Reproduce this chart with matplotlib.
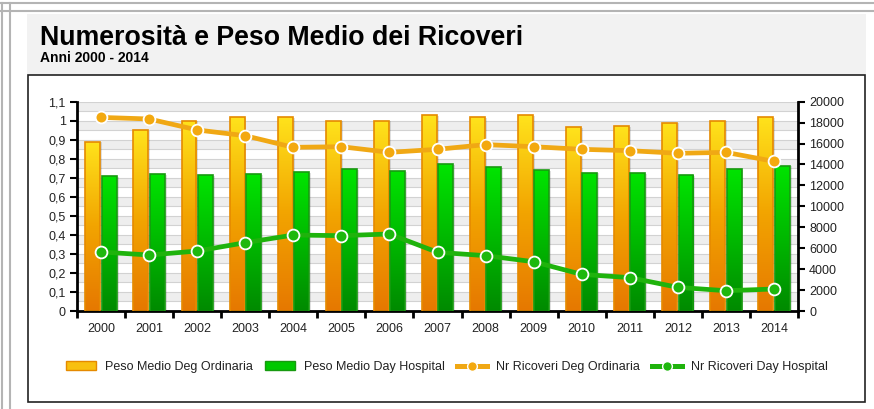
import numpy as np
import matplotlib
matplotlib.use("Agg")
import matplotlib.pyplot as plt
from matplotlib.patches import Rectangle, Patch
from matplotlib.lines import Line2D
from matplotlib.colors import LinearSegmentedColormap

# Data
years = ["2000", "2001", "2002", "2003", "2004", "2005", "2006", "2007",
         "2008", "2009", "2010", "2011", "2012", "2013", "2014"]
peso_ordinaria = [0.89, 0.95, 1.00, 1.02, 1.02, 1.00, 1.00, 1.03,
                  1.02, 1.03, 0.965, 0.97, 0.99, 1.00, 1.02]
peso_day_hospital = [0.71, 0.72, 0.713, 0.718, 0.73, 0.745, 0.737, 0.772,
                     0.755, 0.739, 0.727, 0.724, 0.713, 0.746, 0.764]
nr_ordinaria = [18500, 18350, 17300, 16750, 15640, 15700, 15160, 15450,
                15900, 15700, 15450, 15320, 15070, 15160, 14300]
nr_day_hospital = [5640, 5350, 5730, 6530, 7260, 7200, 7360, 5610,
                   5290, 4710, 3500, 3190, 2260, 1940, 2100]

left_ticks = [0, 0.1, 0.2, 0.3, 0.4, 0.5, 0.6, 0.7, 0.8, 0.9, 1.0, 1.1]
left_labels = ["0", "0,1", "0,2", "0,3", "0,4", "0,5", "0,6", "0,7",
               "0,8", "0,9", "1", "1,1"]
right_ticks = [0, 2000, 4000, 6000, 8000, 10000, 12000, 14000, 16000,
               18000, 20000]

plt.rcParams['font.family'] = ['Liberation Sans', 'DejaVu Sans']

W, H = 874, 409
fig = plt.figure(figsize=(W / 100, H / 100), dpi=100)


def fx(px):
    return px / W


def fy(py):
    return 1 - py / H


# Outer frame lines
for yy in (3, 11):
    fig.add_artist(Line2D([0, 1], [fy(yy), fy(yy)], color="#b4b4b4", lw=1.5,
                          zorder=-10))
for xx in (2, 10):
    fig.add_artist(Line2D([fx(xx), fx(xx)], [0, fy(3)], color="#b4b4b4",
                          lw=1.5, zorder=-10))

# Header background and chart box
fig.add_artist(Rectangle((fx(27), fy(75)), fx(839), 61 / H,
                         facecolor="#f2f2f2", edgecolor="none", zorder=-10))
fig.add_artist(Rectangle((fx(28), fy(402)), fx(837), 327 / H,
                         facecolor="white", edgecolor="#222222", lw=1.2,
                         zorder=-9))

fig.text(fx(40), fy(45), "Numerosità e Peso Medio dei Ricoveri",
         fontsize=19.3, fontweight="bold", color="black", va="baseline")
fig.text(fx(40), fy(62), "Anni 2000 - 2014",
         fontsize=10, fontweight="bold", color="black", va="baseline")

ax = fig.add_axes([fx(77), fy(311), fx(721), (311 - 101.7) / H])
ax.patch.set_visible(False)
ax2 = ax.twinx()

x = np.arange(len(years))

# Background bands and grid
for k in range(11):
    ax.axhspan(k * 0.1 + 0.05, (k + 1) * 0.1, color="#eeeeee", zorder=0, lw=0)
for g in np.arange(0, 1.1001, 0.05):
    ax.axhline(g, color="#d2d2d2", lw=0.8, zorder=0.5)

bw = 0.31
orange_cmap = LinearSegmentedColormap.from_list(
    "or", ["#e67800", "#f2a400", "#ffe31c"])
green_cmap = LinearSegmentedColormap.from_list(
    "gr", ["#008a00", "#00b800", "#00e400"])

bars_o = ax.bar(x - 0.17, peso_ordinaria, bw, facecolor="none",
                edgecolor="#e58a00", lw=1.2, zorder=3)
bars_g = ax.bar(x + 0.17, peso_day_hospital, bw, facecolor="none",
                edgecolor="#189a10", lw=1.2, zorder=3)

grad = np.linspace(0, 1, 256).reshape(-1, 1)
for bars, cmap in ((bars_o, orange_cmap), (bars_g, green_cmap)):
    for b in bars:
        x0, w, h = b.get_x(), b.get_width(), b.get_height()
        # soft shadow
        ax.add_patch(Rectangle((x0 + 0.04, 0), w, h - 0.004,
                               facecolor="#000000", alpha=0.12, lw=0, zorder=1))
        im = ax.imshow(grad, cmap=cmap, origin="lower", aspect="auto",
                       extent=(x0, x0 + w, 0, h), zorder=2)
        im.set_clip_path(b)

ax.set_xlim(-0.5, len(years) - 0.5)
ax.set_ylim(0, 1.1)
ax2.set_ylim(0, 20000)

# Lines on the right axis
ax2.plot(x, nr_ordinaria, color="#f0a814", lw=3.4, solid_capstyle="round",
         marker="o", markersize=8.5, markerfacecolor="#f3a90f",
         markeredgecolor="white", markeredgewidth=1.3, zorder=5)
ax2.plot(x, nr_day_hospital, color="#1fb30c", lw=3.4, solid_capstyle="round",
         marker="o", markersize=8.5, markerfacecolor="#1eb80e",
         markeredgecolor="white", markeredgewidth=1.3, zorder=5)

# Axes styling
ax.set_yticks(left_ticks)
ax.set_yticklabels(left_labels)
ax2.set_yticks(right_ticks)
ax2.set_yticklabels([str(v) for v in right_ticks])

ax.set_xticks(x)
ax.set_xticklabels(years)
ax.set_xticks(np.arange(-0.5, len(years)), minor=True)
ax.tick_params(axis="x", which="major", length=0, pad=9, labelsize=9,
               labelcolor="#222222")
ax.tick_params(axis="x", which="minor", length=5, width=2, color="black",
               direction="out")
ax.tick_params(axis="y", length=5, width=1.5, pad=3, labelsize=9,
               labelcolor="#222222")
ax2.tick_params(axis="y", length=5, width=1.5, pad=3, labelsize=9,
                labelcolor="#222222")

for s in ("top", "right"):
    ax.spines[s].set_visible(False)
for s in ("top", "left", "bottom"):
    ax2.spines[s].set_visible(False)
ax.spines["left"].set_linewidth(2)
ax.spines["bottom"].set_linewidth(2)
ax2.spines["right"].set_linewidth(2)

# Legend
handles = [
    Patch(facecolor="#f8c010", edgecolor="#e58a00", lw=1),
    Patch(facecolor="#00c800", edgecolor="#189a10", lw=1),
    Line2D([], [], color="#f0a814", lw=3.6, marker="o", markersize=7,
           markerfacecolor="#f3a90f", markeredgecolor="white"),
    Line2D([], [], color="#1fb30c", lw=3.6, marker="o", markersize=7,
           markerfacecolor="#1eb80e", markeredgecolor="white"),
]
labels = ["Peso Medio Deg Ordinaria", "Peso Medio Day Hospital",
          "Nr Ricoveri Deg Ordinaria", "Nr Ricoveri Day Hospital"]
fig.legend(handles, labels, loc="center", ncol=4,
           bbox_to_anchor=(fx(447), fy(367)), frameon=False, fontsize=9,
           handlelength=2.4, handleheight=0.7, handletextpad=0.7,
           columnspacing=1.0, labelcolor="#222222")

fig.savefig("out.png", dpi=100)
